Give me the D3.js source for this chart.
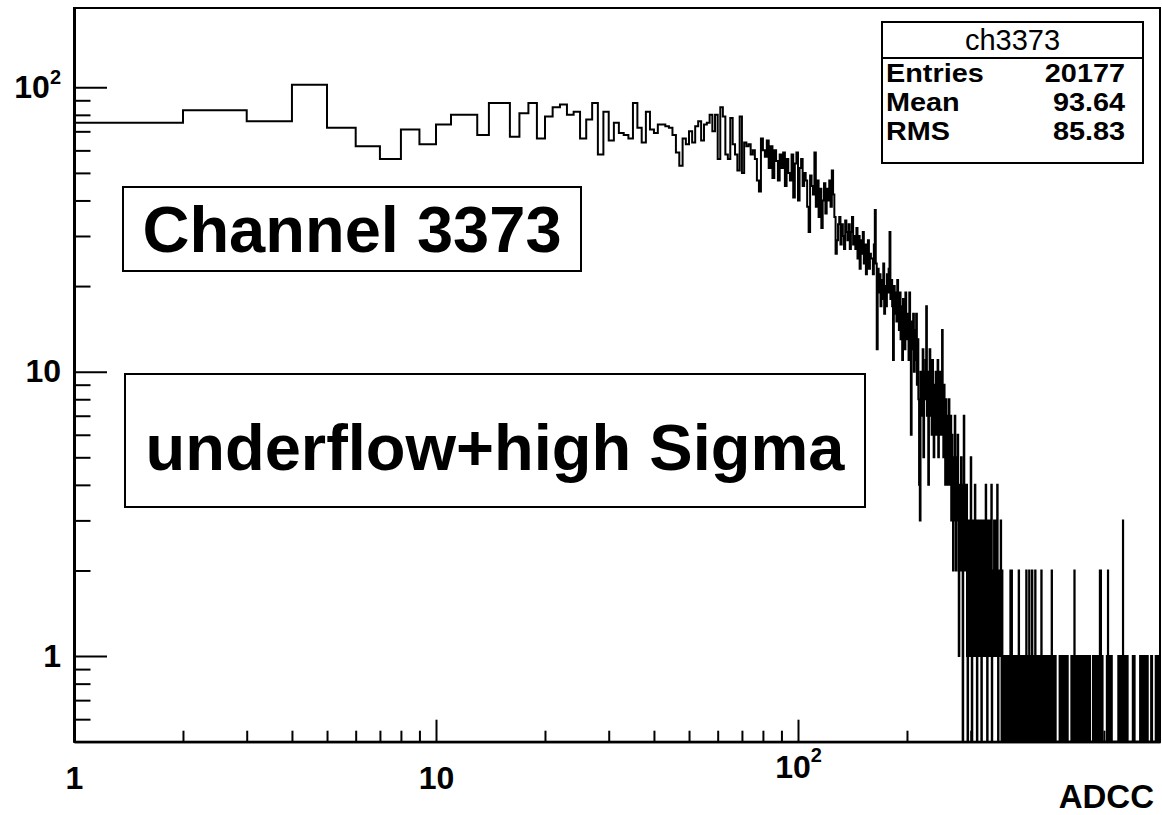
<!DOCTYPE html>
<html>
<head>
<meta charset="utf-8">
<script src="https://cdn.jsdelivr.net/npm/d3@7"></script>
<style>
  body { margin: 0; background: #fff; }
  svg { display: block; }
  text { font-family: "Liberation Sans", Arial, Helvetica, sans-serif; }
</style>
</head>
<body>
<svg id="chart" width="1162" height="815"></svg>
<script>
// ADC spectrum of channel 3373, one-count-wide bins starting at ADC = 1
const firstBin = 1;

// bins 1..69
const countsLow = [
  75, 83, 76, 102, 72, 62, 56, 71, 63, 74,
  80, 80, 68, 88, 88, 67, 81, 88, 66, 79,
  85, 87, 80, 82, 66, 77, 88, 58, 82, 65,
  75, 69, 68, 66, 88, 72, 64, 82, 71, 69,
  74, 74, 73, 72, 68, 59, 53, 66, 63, 70,
  64, 73, 76, 65, 74, 75, 80, 70, 80, 56,
  85, 79, 58, 56, 78, 63, 58, 51, 79
];

// bins 70..369
const countsMid = [
  50, 64, 62, 63, 58, 60, 56, 47, 43, 66,
  60, 57, 65, 52, 62, 48, 60, 55, 47, 58,
  52, 59, 45, 56, 50, 47, 58, 41, 54, 59,
  40, 52, 56, 45, 50, 47, 38, 31, 49, 45,
  42, 59, 38, 47, 35, 44, 32, 40, 46, 36,
  44, 40, 47, 38, 51, 42, 35, 26, 29, 33,
  35, 28, 33, 30, 27, 34, 31, 29, 33, 27,
  31, 35, 28, 30, 27, 32, 25, 30, 23, 29,
  26, 31, 24, 28, 22, 27, 29, 23, 26, 25,
  25, 22, 28, 37, 24, 12, 23, 19, 22, 17,
  21, 18, 24, 16, 20, 17, 22, 19, 23, 31,
  18, 21, 17, 11, 20, 16, 19, 15, 21, 17,
  14, 19, 13, 17, 11, 18, 15, 12, 19, 14,
  13, 16, 11, 19, 14, 6, 15, 12, 16, 10,
  14, 11, 16, 9, 13, 8, 4, 3, 10, 7,
  9, 12, 5, 10, 8, 11, 17, 7, 10, 4,
  9, 12, 7, 10, 6, 11, 8, 5, 9, 7,
  10, 6, 8, 11, 5, 9, 7, 10, 6, 8,
  14, 7, 5, 9, 6, 4, 8, 5, 7, 4,
  6, 8, 4, 5, 7, 3, 6, 4, 2, 5,
  3, 7, 4, 2, 5, 3, 6, 4, 1, 3,
  4, 2, 5, 3, 4, 0, 3, 7, 2, 4,
  3, 2, 4, 1, 0, 3, 2, 3, 1, 2,
  5, 2, 0, 3, 2, 1, 3, 2, 4, 1,
  2, 3, 0, 2, 1, 3, 2, 1, 3, 2,
  1, 0, 2, 3, 1, 2, 2, 3, 1, 2,
  4, 2, 1, 0, 3, 2, 1, 2, 3, 1,
  2, 3, 4, 0, 2, 1, 2, 1, 3, 2,
  1, 2, 3, 1, 2, 4, 1, 0, 2, 1,
  2, 1, 2, 3, 1, 0, 2, 1, 1, 0
];

// bins 370..999, ten bins per string, one digit per bin
const countsTail = [
  "1010110100", "1011012102", "1001011010", "0110100210", "1101001011",
  "0101101200", "1011020101", "0012010110", "1020110010", "1101010011",
  "2010110100", "1011001010", "0110101001", "1020110100", "1010100000",
  "0000000010", "1101011010", "0101101001", "1010110000", "0000000001",
  "0110101101", "2010010110", "1001011010", "0101101001", "1010010110",
  "0110100101", "1011010010", "1000000000", "0001011010", "0101100101",
  "1010110100", "1020102010", "1101000000", "0000000000", "0001010120",
  "1010110100", "1101010000", "0000000000", "0000000000", "0000000101",
  "1010110100", "0110101010", "3010110100", "1011010010", "1101000000",
  "0000000000", "0000000000", "0101101000", "1000000000", "0000000000",
  "0000000000", "0101101001", "1010110101", "0110100101", "1011010110",
  "0101100000", "0000000000", "0000010110", "1000000000", "0000000000",
  "0001011010", "1101010110", "1010110101"
];

const xMajorTicks = [1, 10, 100];
const xMinorTicks = [2, 3, 4, 5, 6, 7, 8, 9, 20, 30, 40, 50, 60, 70, 80, 90,
                     200, 300, 400, 500, 600, 700, 800, 900];
const yMajorTicks = [1, 10, 100];
const yMinorTicks = [0.6, 0.7, 0.8, 0.9, 2, 3, 4, 5, 6, 7, 8, 9,
                     20, 30, 40, 50, 60, 70, 80, 90];

const statsTitle = "ch3373";
const statsNames = ["Entries", "Mean", "RMS"];
const statsValues = ["20177", "93.64", "85.83"];
const xTitle = "ADCC";
const labelChannel = "Channel 3373";
const labelStatus = "underflow+high Sigma";

// ---- layout ----
const frame = { left: 74, right: 1160, top: 8, bottom: 741.7 };
const svg = d3.select("#chart");

const x = d3.scaleLog().domain([1, 1000]).range([frame.left, frame.right]);
const y = d3.scaleLog().domain([0.5, 190]).range([frame.bottom, frame.top]);

// assemble bins
const tailDigits = countsTail.join("").split("").map(Number);
const counts = countsLow.concat(countsMid, tailDigits);
const bins = counts.map((c, i) => ({ lo: firstBin + i, hi: firstBin + i + 1, c }));

// ---- frame ----
svg.append("rect")
  .attr("x", frame.left).attr("y", frame.top)
  .attr("width", frame.right - frame.left).attr("height", frame.bottom - frame.top)
  .attr("fill", "#fff").attr("stroke", "#000").attr("stroke-width", 2);

svg.append("clipPath").attr("id", "frameClip")
  .append("rect")
  .attr("x", frame.left).attr("y", frame.top)
  .attr("width", frame.right - frame.left).attr("height", frame.bottom - frame.top);

// ---- histogram, drawn as a step outline; empty bins drop to the frame bottom ----
const yOf = c => (c > 0 ? y(c) : frame.bottom);
const pts = bins.map(b => [x(b.lo), yOf(b.c)]);
const last = bins[bins.length - 1];
pts.push([x(last.hi), yOf(last.c)]);

svg.append("path")
  .attr("clip-path", "url(#frameClip)")
  .attr("d", d3.line().curve(d3.curveStepAfter)(pts))
  .attr("fill", "none")
  .attr("stroke", "#000")
  .attr("stroke-width", 2);

// ---- axes ----
function supLabel(sel, v, shiftMain, supRaise) {
  sel.each(function(d) {
    const t = d3.select(this);
    if (d === v) {
      t.text(null);
      t.append("tspan").text("10");
      t.append("tspan").text("2").attr("font-size", 20).attr("dy", -supRaise);
      if (shiftMain) t.attr("dy", shiftMain);
    }
  });
}

const gx = svg.append("g").attr("transform", `translate(0,${frame.bottom})`);
gx.call(d3.axisBottom(x).tickValues(xMinorTicks).tickSizeInner(-11).tickSizeOuter(0).tickFormat(""));
const gxMajor = svg.append("g").attr("transform", `translate(0,${frame.bottom})`);
gxMajor.call(d3.axisBottom(x).tickValues(xMajorTicks).tickSizeInner(-22).tickSizeOuter(0)
  .tickPadding(25).tickFormat(d => String(d)));
gxMajor.selectAll("text").call(supLabel, 100, "0.34em", 16);

const gy = svg.append("g").attr("transform", `translate(${frame.left},0)`);
gy.call(d3.axisLeft(y).tickValues(yMinorTicks).tickSizeInner(-16.5).tickSizeOuter(0).tickFormat(""));
const gyMajor = svg.append("g").attr("transform", `translate(${frame.left},0)`);
gyMajor.call(d3.axisLeft(y).tickValues(yMajorTicks).tickSizeInner(-33).tickSizeOuter(0)
  .tickPadding(13).tickFormat(d => String(d)));
gyMajor.selectAll("text").call(supLabel, 100, null, 14);

svg.selectAll(".domain").attr("stroke", "#000").attr("stroke-width", 2);
gy.select(".domain").attr("stroke-width", 3);
gyMajor.select(".domain").attr("stroke-width", 3);
svg.selectAll(".tick line").attr("stroke", "#000").attr("stroke-width", 2);
svg.selectAll(".tick text")
  .attr("font-family", "'Liberation Sans', Arial, Helvetica, sans-serif")
  .attr("font-weight", "bold").attr("font-size", 32).attr("fill", "#000");

svg.append("text")
  .attr("x", 1154).attr("y", 807.5)
  .attr("text-anchor", "end")
  .attr("font-weight", "bold").attr("font-size", 33)
  .text(xTitle);

// ---- text panels ----
function panel(x0, y0, x1, y1, label, baseline) {
  svg.append("rect")
    .attr("x", x0).attr("y", y0).attr("width", x1 - x0).attr("height", y1 - y0)
    .attr("fill", "#fff").attr("stroke", "#000").attr("stroke-width", 2);
  svg.append("text")
    .attr("x", (x0 + x1) / 2).attr("y", baseline)
    .attr("text-anchor", "middle")
    .attr("font-weight", "bold").attr("font-size", 65)
    .text(label);
}
panel(123, 187, 581, 271, labelChannel, 252);
panel(125, 374, 865, 507, labelStatus, 470);

// ---- statistics box ----
const sb = { x0: 882, y0: 22, x1: 1143, y1: 163, head: 58 };
svg.append("rect")
  .attr("x", sb.x0).attr("y", sb.y0).attr("width", sb.x1 - sb.x0).attr("height", sb.y1 - sb.y0)
  .attr("fill", "#fff").attr("stroke", "#000").attr("stroke-width", 2);
svg.append("line")
  .attr("x1", sb.x0).attr("x2", sb.x1).attr("y1", sb.head).attr("y2", sb.head)
  .attr("stroke", "#000").attr("stroke-width", 2);
svg.append("text")
  .attr("x", (sb.x0 + sb.x1) / 2).attr("y", 50)
  .attr("text-anchor", "middle").attr("font-size", 29)
  .text(statsTitle);

// rows of the box: glyphs slightly widened to the box's own lettering
const rowBase = [82, 111, 139.5];
function statText(xPos, yPos, str, anchor) {
  const t = svg.append("text").attr("x", xPos).attr("y", yPos)
    .attr("text-anchor", anchor)
    .attr("font-weight", "bold").attr("font-size", 25.5).text(str);
  const w = t.node().getComputedTextLength();
  t.attr("textLength", w * 1.13).attr("lengthAdjust", "spacingAndGlyphs");
}
statsNames.forEach((n, i) => {
  statText(sb.x0 + 4, rowBase[i], n, "start");
  statText(1125, rowBase[i], statsValues[i], "end");
});
</script>
</body>
</html>
